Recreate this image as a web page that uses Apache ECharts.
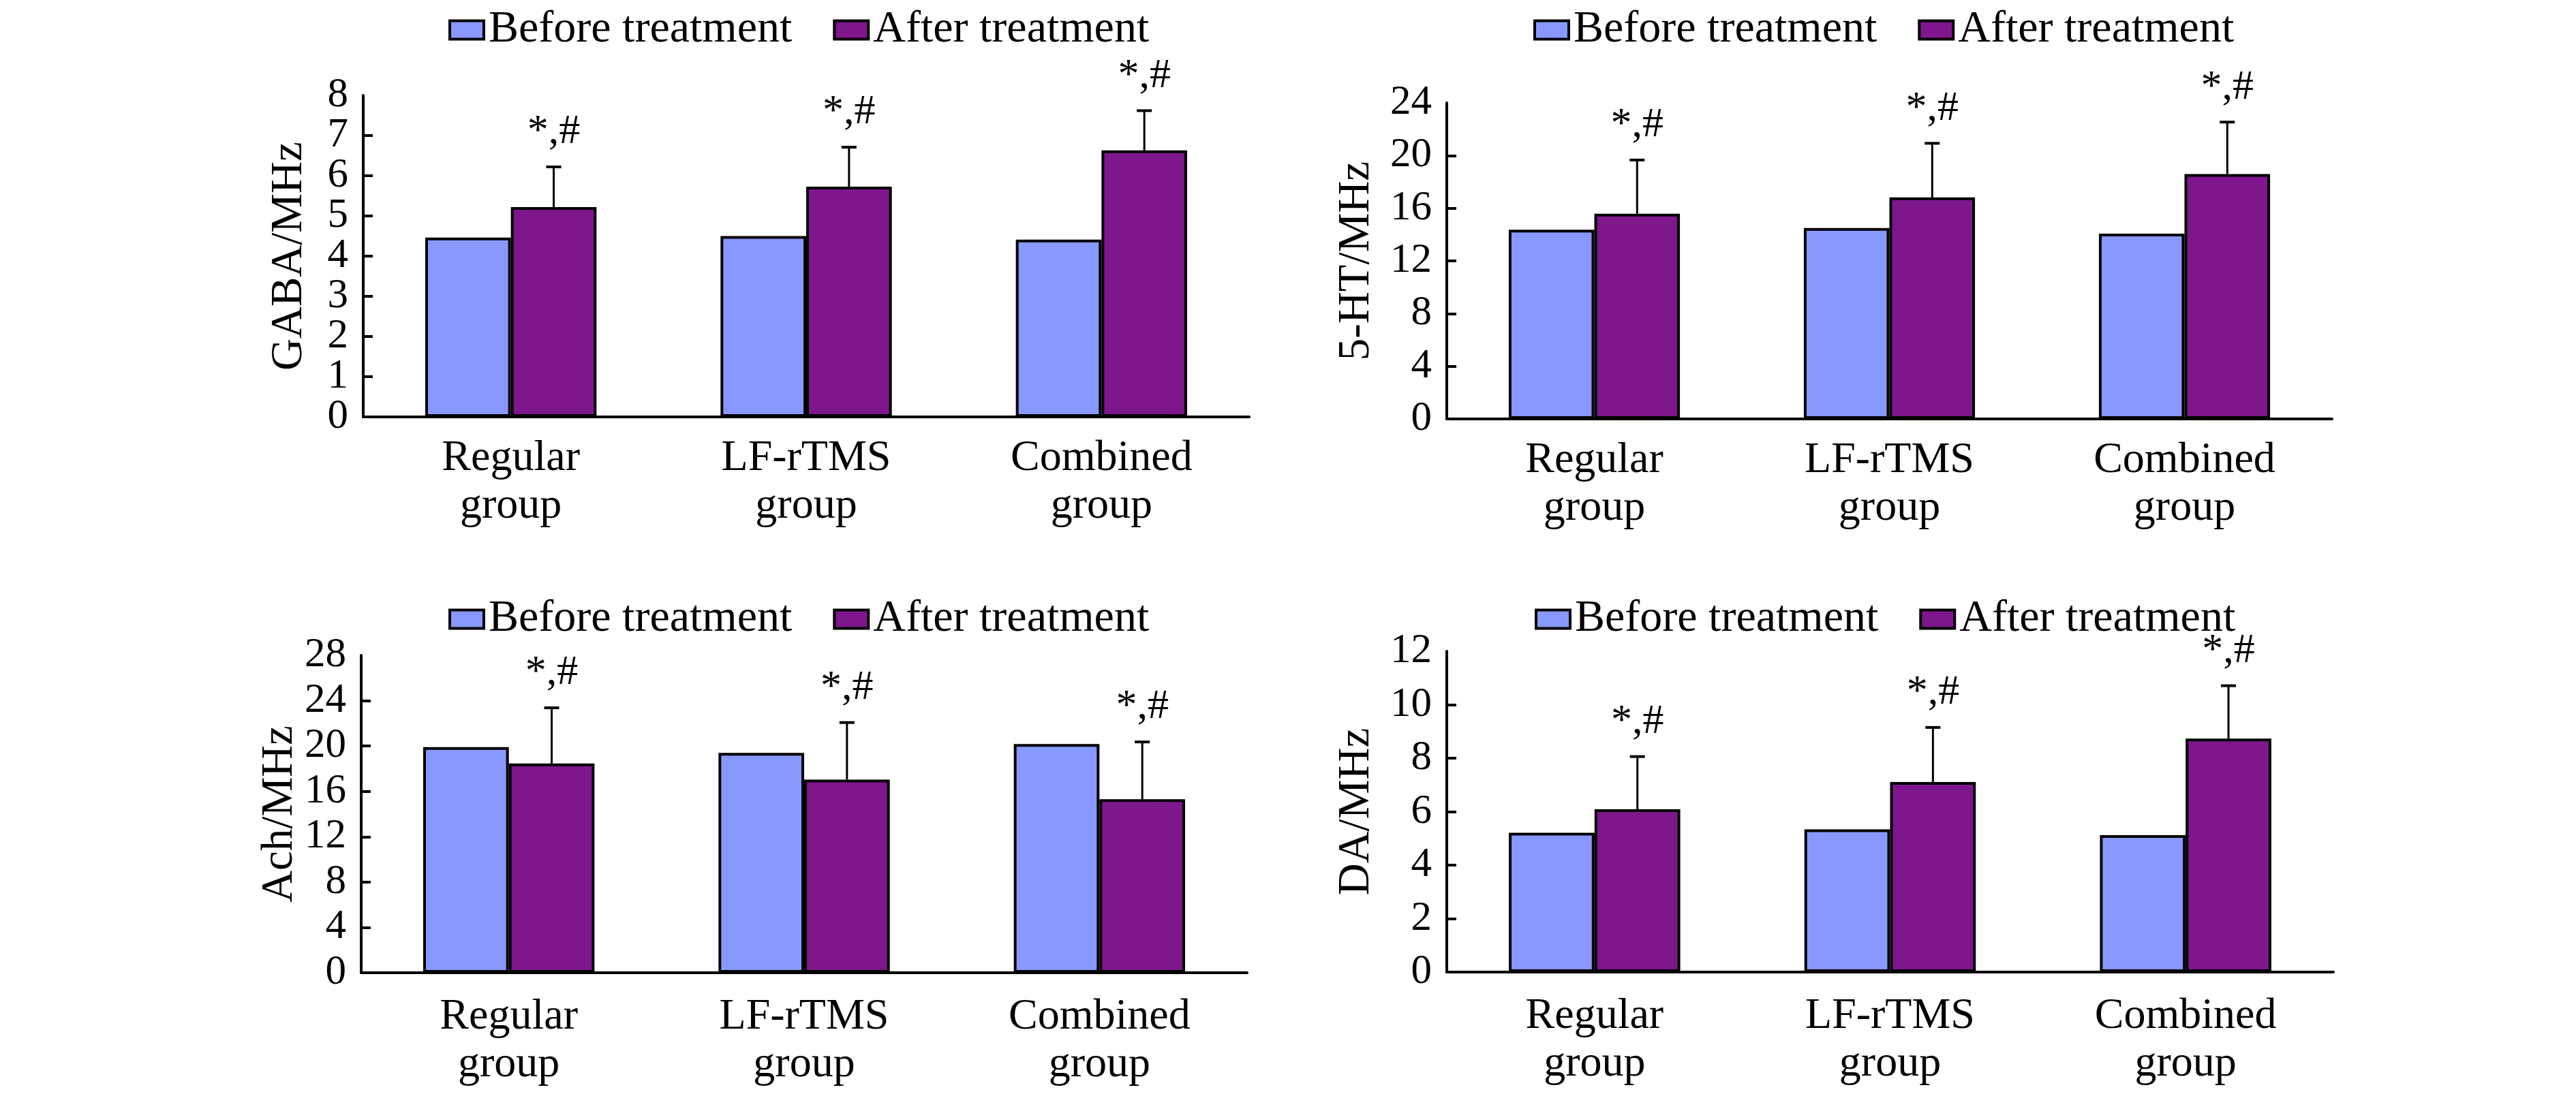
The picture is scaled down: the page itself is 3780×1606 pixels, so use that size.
<!DOCTYPE html>
<html>
<head>
<meta charset="utf-8">
<script src="https://cdn.jsdelivr.net/npm/echarts@6/dist/echarts.min.js"></script>
<style>
html,body{margin:0;padding:0;background:#fff;}
#chart{width:3780px;height:1606px;}
</style>
</head>
<body>
<div id="chart"></div>
<script>
// ---------- data ----------
const categories = ['Regular\ngroup', 'LF-rTMS\ngroup', 'Combined\ngroup'];
const seriesNames = ['Before treatment', 'After treatment'];
const sigLabels = ['*,#', '*,#', '*,#'];

const gabaBefore = [4.46, 4.50, 4.41];
const gabaAfter  = [5.22, 5.73, 6.63];
const gabaSD     = [1.00, 0.98, 0.99];

const htBefore = [14.36, 14.49, 14.07];
const htAfter  = [15.58, 16.82, 18.60];
const htSD     = [4.08, 4.11, 3.94];

const achBefore = [19.90, 19.39, 20.17];
const achAfter  = [18.46, 17.04, 15.30];
const achSD     = [4.91, 5.03, 5.06];

const daBefore = [5.21, 5.34, 5.12];
const daAfter  = [6.09, 7.11, 8.73];
const daSD     = [1.97, 2.04, 1.98];

const yTitles = ['GABA/MHz', '5-HT/MHz', 'Ach/MHz', 'DA/MHz'];
const yMax = [8, 24, 28, 12];
const yStep = [1, 4, 4, 2];

// ---------- layout / style ----------
const FONT = 'Liberation Serif';
const C_BEFORE = '#8898FE';
const C_AFTER = '#7E168C';
const GAP = 0.42;

const panels = [
  {before: gabaBefore, after: gabaAfter, sd: gabaSD, xMargin: 26,
   grid: {left: 533, right: 1947, top: 140, bottom: 994}, nameGap: 76, legend: {left: 658, top: 11}},
  {before: htBefore, after: htAfter, sd: htSD, xMargin: 26,
   grid: {left: 2123, right: 358, top: 151, bottom: 991}, nameGap: 100, legend: {left: 2250, top: 11}},
  {before: achBefore, after: achAfter, sd: achSD, xMargin: 30,
   grid: {left: 530, right: 1950, top: 962, bottom: 178}, nameGap: 86, legend: {left: 658, top: 876}},
  {before: daBefore, after: daAfter, sd: daSD, xMargin: 30,
   grid: {left: 2123, right: 356, top: 956, bottom: 179}, nameGap: 100, legend: {left: 2252, top: 876}}
];

const yLabelStyle = {fontFamily: FONT, fontSize: 61, color: '#000', margin: 22};

const option = {
  backgroundColor: '#fff',
  animation: false,
  grid: [], xAxis: [], yAxis: [], legend: [], series: []
};

panels.forEach((p, i) => {
  const yi = 2 * i;
  option.grid.push(Object.assign({containLabel: false}, p.grid));
  option.legend.push({
    data: seriesNames,
    left: p.legend.left, top: p.legend.top,
    padding: 0,
    itemWidth: 50, itemHeight: 27, itemGap: 60,
    icon: 'rect',
    itemStyle: {borderColor: '#000', borderWidth: 4},
    textStyle: {fontFamily: FONT, fontSize: 66, color: '#000', padding: [0, 0, 0, 2]}
  });
  option.xAxis.push({
    type: 'category', gridIndex: i, data: categories,
    axisLine: {show: true, lineStyle: {color: '#000', width: 4}},
    axisTick: {show: false},
    axisLabel: {fontFamily: FONT, fontSize: 64, color: '#000', lineHeight: 70, margin: p.xMargin, interval: 0},
    splitLine: {show: false}
  });
  // main value axis: inner tick labels
  option.yAxis.push({
    type: 'value', gridIndex: i, position: 'left', offset: 0,
    min: 0, max: yMax[i], interval: yStep[i],
    name: yTitles[i], nameLocation: 'middle', nameGap: p.nameGap, nameRotate: 90,
    nameTextStyle: {fontFamily: FONT, fontSize: 65, color: '#000'},
    axisLine: {show: true, lineStyle: {color: '#000', width: 4}},
    axisTick: {show: true, inside: true, length: 14, lineStyle: {color: '#000', width: 4}},
    axisLabel: Object.assign({showMinLabel: false, showMaxLabel: false}, yLabelStyle),
    splitLine: {show: false}
  });
  // companion axis on the same scale: shows the end labels (0 and max)
  option.yAxis.push({
    type: 'value', gridIndex: i, position: 'left', offset: 0,
    min: 0, max: yMax[i], interval: yMax[i],
    axisLine: {show: false}, axisTick: {show: false}, splitLine: {show: false},
    axisLabel: Object.assign({showMinLabel: true, showMaxLabel: true}, yLabelStyle)
  });
  option.series.push({
    name: seriesNames[0], type: 'bar', xAxisIndex: i, yAxisIndex: yi,
    data: p.before, barGap: '0%', barCategoryGap: (GAP * 100) + '%',
    itemStyle: {color: C_BEFORE, borderColor: '#000', borderWidth: 4}
  });
  option.series.push({
    name: seriesNames[1], type: 'bar', xAxisIndex: i, yAxisIndex: yi,
    data: p.after, barGap: '0%', barCategoryGap: (GAP * 100) + '%',
    itemStyle: {color: C_AFTER, borderColor: '#000', borderWidth: 4}
  });
  option.series.push({
    name: 'err' + i, type: 'custom', xAxisIndex: i, yAxisIndex: yi, z: 10,
    data: p.after.map((v, k) => [k, v, p.sd[k], sigLabels[k]]),
    renderItem: function (params, api) {
      const k = api.value(0), v = api.value(1), sd = api.value(2);
      const base = api.coord([k, v]);
      const top = api.coord([k, v + sd]);
      const band = api.size([1, 0])[0];
      const x = base[0] + band * (1 - GAP) / 4;
      return {
        type: 'group',
        children: [
          {type: 'line', shape: {x1: x, y1: base[1], x2: x, y2: top[1]},
           style: {stroke: '#000', lineWidth: 3}},
          {type: 'line', shape: {x1: x - 11, y1: top[1], x2: x + 11, y2: top[1]},
           style: {stroke: '#000', lineWidth: 4}},
          {type: 'text', x: x, y: top[1] - 20,
           style: {text: sigLabels[k], fill: '#000', font: '62px "' + FONT + '"',
                   textAlign: 'center', textVerticalAlign: 'bottom'}}
        ]
      };
    }
  });
});

const chart = echarts.init(document.getElementById('chart'), null, {renderer: 'canvas'});
chart.setOption(option);
</script>
</body>
</html>
